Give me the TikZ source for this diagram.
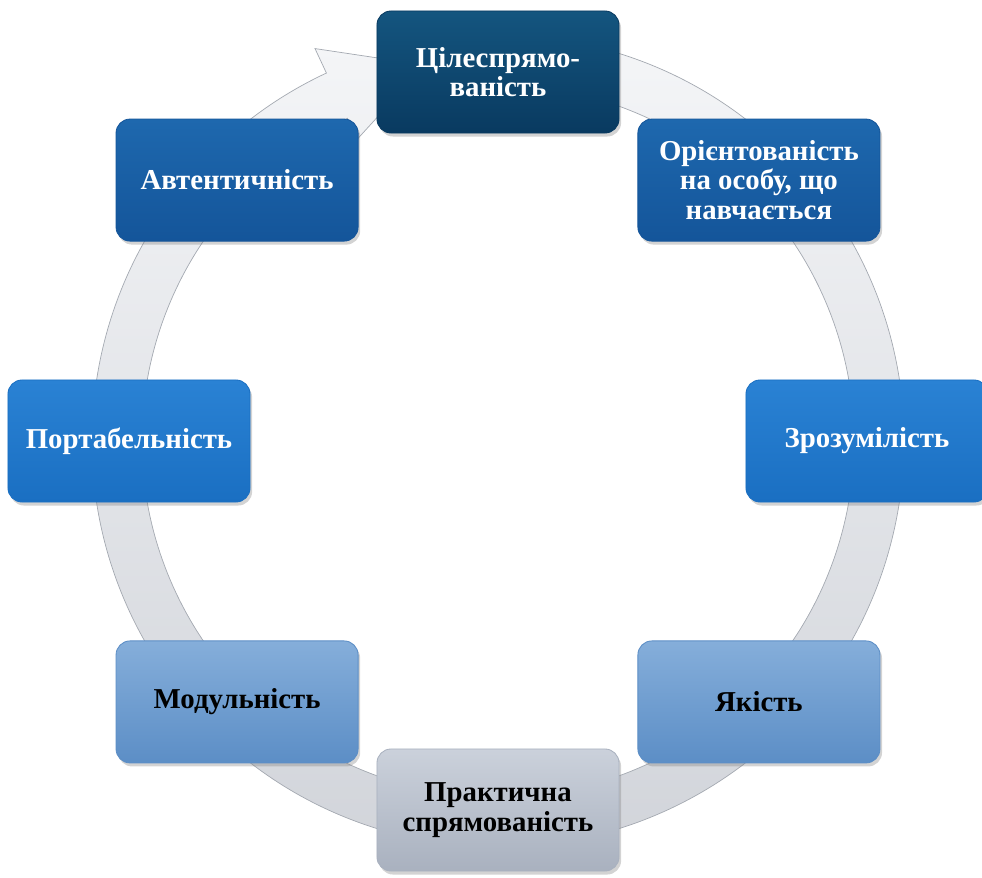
\documentclass[tikz,border=0pt]{standalone}
\usepackage{fontspec}
\setmainfont{Liberation Serif}
\usetikzlibrary{shadows}
\definecolor{navy800} {HTML}{093A60}
\definecolor{navy600} {HTML}{14557F}
\definecolor{blue700} {HTML}{14559A}
\definecolor{blue600} {HTML}{1E68AE}
\definecolor{blue500} {HTML}{1A6FC2}
\definecolor{blue400} {HTML}{2A82D4}
\definecolor{sky500}  {HTML}{5C8EC6}
\definecolor{sky300}  {HTML}{85AEDA}
\definecolor{slate400}{HTML}{A9B1BF}
\definecolor{slate200}{HTML}{CBD1DB}
\definecolor{ring100} {HTML}{F4F5F7}
\definecolor{ring300} {HTML}{D0D3D9}
\definecolor{ring500} {HTML}{A4A9B1}
\tikzset{
  box/.style  ={rounded corners=0.35cm, minimum width=6.05cm,
                minimum height=3.05cm, align=center, line width=0.6pt,
                font=\bfseries\fontsize{20.5}{21}\selectfont,
                drop shadow={opacity=0.35, shadow xshift=1.5pt,
                             shadow yshift=-2.5pt}},
  boxa/.style ={box, draw=navy800, top color=navy600, bottom color=navy800,
                text=white},
  boxb/.style ={box, draw=blue700, top color=blue600, bottom color=blue700,
                text=white},
  boxc/.style ={box, draw=blue500, top color=blue400, bottom color=blue500,
                text=white},
  boxd/.style ={box, draw=sky500, top color=sky300, bottom color=sky500,
                text=black},
  boxe/.style ={box, draw=slate400, top color=slate200, bottom color=slate400,
                text=black},
  ring/.style ={top color=ring100, bottom color=ring300, draw=ring500,
                line width=0.5pt}
}
\begin{document}
\begin{tikzpicture}[x=0.025cm, y=0.025cm]
\useasboundingbox (-498,-436) rectangle (484,441);
% circular arrow behind the boxes
\path[ring] (78:406) arc[start angle=78, end angle=-245, radius=406]
  -- (115:433) -- (101:383) -- (115:333) -- (115:356)
  arc[start angle=115, end angle=438, radius=356] -- cycle;

\node[boxa] (tsil) at (90:369)
  {\fontsize{20.5}{23}\selectfont Цілеспрямо-\\ваність};
\node[boxb] (orie) at (45:369)   {Орієнтованість\\на особу, що\\навчається};
\node[boxc] (zroz) at (0:369)    {Зрозумілість};
\node[boxd] (yaki) at (-45:369)  {Якість};
\node[boxe] (prak) at (-90:369)  {Практична\\спрямованість};
\node[boxd] (modu) at (-135:369) {Модульність};
\node[boxc] (port) at (180:369)  {Портабельність};
\node[boxb] (avte) at (135:369)  {Автентичність};
\end{tikzpicture}
\end{document}
